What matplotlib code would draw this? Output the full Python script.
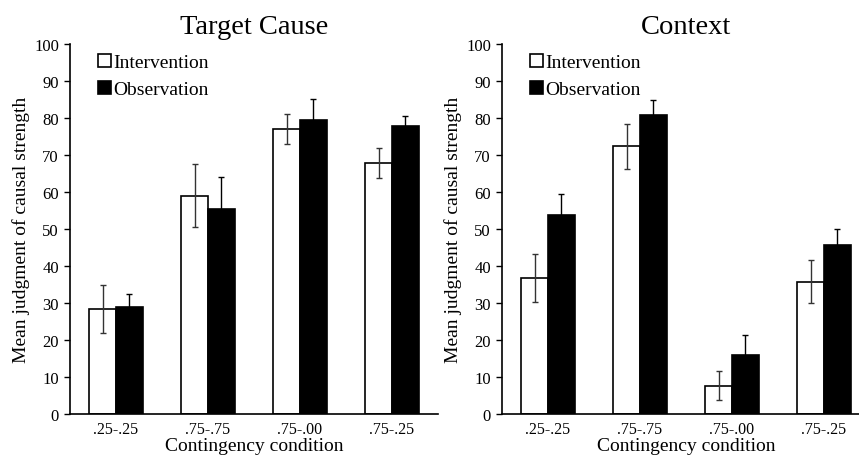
import matplotlib
matplotlib.use("Agg")
import matplotlib.pyplot as plt
import numpy as np

plt.rcParams['font.family'] = ['Liberation Serif', 'DejaVu Serif']

# Datos
condiciones = ['.25-.25', '.75-.75', '.75-.00', '.75-.25']

causa_interv = [28.3, 59.0, 77.1, 67.9]
causa_interv_err = [6.5, 8.5, 4.1, 4.1]
causa_obs = [28.9, 55.3, 79.5, 77.8]
causa_obs_err = [3.5, 8.8, 5.6, 2.8]

contexto_interv = [36.8, 72.3, 7.6, 35.7]
contexto_interv_err = [6.4, 6.2, 3.9, 5.8]
contexto_obs = [53.8, 80.7, 15.9, 45.8]
contexto_obs_err = [5.7, 4.2, 5.4, 4.1]

fig = plt.figure(figsize=(8.59, 4.56), dpi=100)
ax1 = fig.add_axes([70 / 859, 41 / 456, 368 / 859, 370 / 456])
ax2 = fig.add_axes([502 / 859, 41 / 456, 368 / 859, 370 / 456])

x = np.arange(len(condiciones)) + 0.5
ancho = 0.29


def dibujar(ax, interv, interv_err, obs, obs_err, titulo):
    ax.bar(x - ancho / 2, interv, ancho, color='white', edgecolor='black',
           linewidth=1.2, label='Intervention', zorder=2)
    ax.bar(x + ancho / 2, obs, ancho, color='black', edgecolor='black',
           linewidth=1.2, label='Observation', zorder=2)
    ax.errorbar(x - ancho / 2, interv, yerr=interv_err, fmt='none',
                ecolor='#333333', elinewidth=1, capsize=2, capthick=1, zorder=3)
    # las barras negras tapan la mitad de abajo
    ax.errorbar(x + ancho / 2, obs, yerr=obs_err, fmt='none',
                ecolor='black', elinewidth=1, capsize=2, capthick=1, zorder=1)

    ax.set_xlim(0, 4)
    ax.set_ylim(0, 100)
    ax.set_yticks(range(0, 101, 10))
    ax.set_xticks(x)
    ax.set_xticklabels(condiciones, fontsize=11.5)
    ax.tick_params(axis='x', length=0, pad=5)
    ax.tick_params(axis='y', direction='out', length=4, width=1, labelsize=12, pad=4)
    for s in ['top', 'right']:
        ax.spines[s].set_visible(False)
    for s in ['left', 'bottom']:
        ax.spines[s].set_linewidth(1.2)

    ax.set_title(titulo, fontsize=20.5, pad=8)
    ax.set_xlabel('Contingency condition', fontsize=14, labelpad=0)
    ax.set_ylabel('Mean judgment of causal strength', fontsize=14, labelpad=3)
    ax.legend(loc='upper left', bbox_to_anchor=(0.04, 1.01), frameon=False,
              fontsize=14, handlelength=0.65, handleheight=0.65,
              handletextpad=0.1, labelspacing=0.5, borderaxespad=0.3)


dibujar(ax1, causa_interv, causa_interv_err, causa_obs, causa_obs_err, 'Target Cause')
dibujar(ax2, contexto_interv, contexto_interv_err, contexto_obs, contexto_obs_err, 'Context')

fig.savefig('out.png', dpi=100)
